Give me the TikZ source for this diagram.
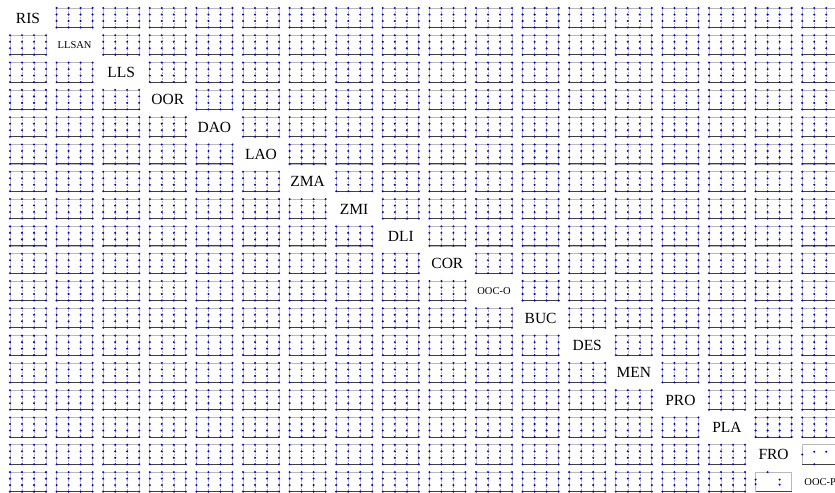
\documentclass[tikz,border=0pt]{standalone}
\usepackage{fontspec}
\setmainfont{Liberation Serif}
\tikzset{
  panelbox/.style={draw=gray!55, line width=0.7bp},
  panelaxis/.style={draw=black!75, line width=1bp},
  panelgrid/.style={draw=gray!60, densely dotted, line width=0.5bp},
  paneldot/.style={fill=blue!90!black},
  biglabel/.style={font=\fontsize{15.5bp}{18bp}\selectfont, inner sep=0pt},
  smalllabel/.style={font=\fontsize{10.5bp}{12bp}\selectfont, inner sep=0pt}
}
\newcommand\panelframe[2]{%
  \begin{scope}[shift={({10+46.6*#1},{8+27.3*#2})}]
    \draw[panelbox] (0,0) rectangle (36,19.5);
    \draw[panelaxis] (0,19.5) -- (36,19.5);
  \end{scope}}
\newcommand\panelat[2]{%
  \begin{scope}[shift={({10+46.6*#1},{8+27.3*#2})}]
    \draw[panelgrid] (12,0) -- (12,19.5) (24,0) -- (24,19.5);
    \draw[panelbox] (0,0) rectangle (36,19.5);
    \draw[panelaxis] (0,19.5) -- (36,19.5);
    \foreach \a in {0,1,2,3}{\foreach \b in {0,1,2,3}{\fill[paneldot] (12*\a,6.5*\b) circle (1.15bp);}}
  \end{scope}}
\begin{document}
\begin{tikzpicture}[x=1bp,y=-1bp]
\clip (0,0) rectangle (835,493);
\fill[white] (0,0) rectangle (835,493);
\foreach \i in {0,...,17}{\foreach \j in {0,...,17}{%
  \ifnum\i=\j\else
    \ifnum\numexpr\i+\j\relax=33\else\panelat{\j}{\i}\fi
  \fi}}
% sparse panels
\panelframe{16}{17}
\begin{scope}[shift={({10+46.6*16},{8+27.3*17})}]
  \foreach \p in {(12,0),(0,7.5),(0,12),(24,7.5),(24,12.5)} \fill[paneldot] \p circle (1.15bp);
\end{scope}
\panelframe{17}{16}
\begin{scope}[shift={({10+46.6*17},{8+27.3*16})}]
  \foreach \p in {(0,9.75),(12,7),(24,7),(12,19.5)} \fill[paneldot] \p circle (1.15bp);
\end{scope}
\node[biglabel] (ris) at ({28+46.6*0},{18+27.3*0}) {RIS};
\node[smalllabel] (llsan) at ({28+46.6*1},{18+27.3*1}) {LLSAN};
\node[biglabel] (lls) at ({28+46.6*2},{18+27.3*2}) {LLS};
\node[biglabel] (oor) at ({28+46.6*3},{18+27.3*3}) {OOR};
\node[biglabel] (dao) at ({28+46.6*4},{18+27.3*4}) {DAO};
\node[biglabel] (lao) at ({28+46.6*5},{18+27.3*5}) {LAO};
\node[biglabel] (zma) at ({28+46.6*6},{18+27.3*6}) {ZMA};
\node[biglabel] (zmi) at ({28+46.6*7},{18+27.3*7}) {ZMI};
\node[biglabel] (dli) at ({28+46.6*8},{18+27.3*8}) {DLI};
\node[biglabel] (cor) at ({28+46.6*9},{18+27.3*9}) {COR};
\node[smalllabel] (oouco) at ({28+46.6*10},{18+27.3*10}) {OOC-O};
\node[biglabel] (buc) at ({28+46.6*11},{18+27.3*11}) {BUC};
\node[biglabel] (des) at ({28+46.6*12},{18+27.3*12}) {DES};
\node[biglabel] (men) at ({28+46.6*13},{18+27.3*13}) {MEN};
\node[biglabel] (pro) at ({28+46.6*14},{18+27.3*14}) {PRO};
\node[biglabel] (pla) at ({28+46.6*15},{18+27.3*15}) {PLA};
\node[biglabel] (fro) at ({28+46.6*16},{18+27.3*16}) {FRO};
\node[smalllabel] (oocp) at ({28+46.6*17},{18+27.3*17}) {OOC-P};
\end{tikzpicture}
\end{document}
